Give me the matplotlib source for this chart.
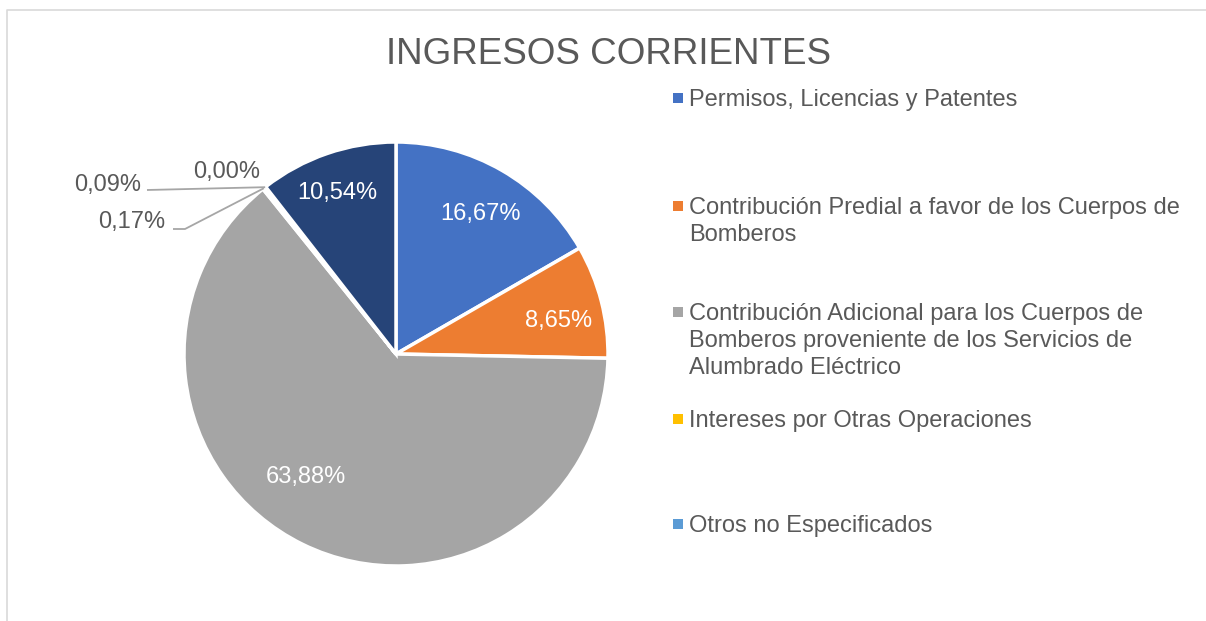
import matplotlib
matplotlib.use("Agg")
import matplotlib.pyplot as plt
import numpy as np

plt.rcParams['font.family'] = ['Liberation Sans', 'DejaVu Sans']

# Data
title = "INGRESOS CORRIENTES"
values = [16.67, 8.65, 63.88, 0.17, 0.09, 0.00, 10.54]
pct_labels = ["16,67%", "8,65%", "63,88%", "0,17%", "0,09%", "0,00%", "10,54%"]
colors = ["#4472C4", "#ED7D31", "#A5A5A5", "#FFC000", "#5B9BD5", "#70AD47", "#264478"]
legend_labels = [
    "Permisos, Licencias y Patentes",
    "Contribución Predial a favor de los Cuerpos de\nBomberos",
    "Contribución Adicional para los Cuerpos de\nBomberos proveniente de los Servicios de\nAlumbrado Eléctrico",
    "Intereses por Otras Operaciones",
    "Otros no Especificados",
]

W, H = 1206, 621
fig = plt.figure(figsize=(W / 100, H / 100), dpi=100)
ax = fig.add_axes([0, 0, 1, 1])

cx, cy, R = 396, H - 354, 212
wedges, _ = ax.pie(values, colors=colors, startangle=90, counterclock=False,
                   center=(cx, cy), radius=R,
                   wedgeprops=dict(edgecolor="white", linewidth=2.5))
ax.set_aspect("auto")
ax.set_xlim(0, W)
ax.set_ylim(0, H)
ax.axis("off")

txt = "#595959"

# inside labels (radial distance factor, angle tweak in degrees)
inside = {0: (0.77, -1), 1: (0.78, -3), 2: (0.72, -10), 6: (0.81, 1)}
for i, (d, tweak) in inside.items():
    w = wedges[i]
    ang = np.deg2rad((w.theta1 + w.theta2) / 2 + tweak)
    ax.text(cx + d * R * np.cos(ang), cy + d * R * np.sin(ang), pct_labels[i],
            color="white", fontsize=17, ha="center", va="center")

# outside labels for the tiny slices
lead = "#A6A6A6"
for i, (tx, ty, path) in {3: (132, H - 222, [(173, H - 229), (185, H - 229)]),
                          4: (108, H - 185, [(147, H - 190)]),
                          5: (227, H - 172, [])}.items():
    w = wedges[i]
    ang = np.deg2rad((w.theta1 + w.theta2) / 2)
    px, py = cx + R * np.cos(ang), cy + R * np.sin(ang)
    if path:
        xs = [p[0] for p in path] + [px]
        ys = [p[1] for p in path] + [py]
        ax.plot(xs, ys, color=lead, lw=1.3, solid_capstyle="butt")
    ax.text(tx, ty, pct_labels[i], color=txt, fontsize=17, ha="center", va="center")

# title
fig.text(608 / W, 1 - 54 / H, title, color=txt, fontsize=26.5, ha="center", va="center")

# legend
slot_top = [98, 206, 312, 419, 524]
for i, lab in enumerate(legend_labels):
    y = H - slot_top[i]
    ax.scatter([678], [y], marker="s", s=45, color=colors[i], linewidths=0)
    ax.text(689, y + 9, lab, color=txt, fontsize=17, ha="left", va="top",
            linespacing=1.3)

# chart frame
ax.plot([7, 7, W + 5], [-5, H - 10, H - 10], color="#D9D9D9", lw=1.2, clip_on=False)

fig.savefig("out.png", dpi=100)
